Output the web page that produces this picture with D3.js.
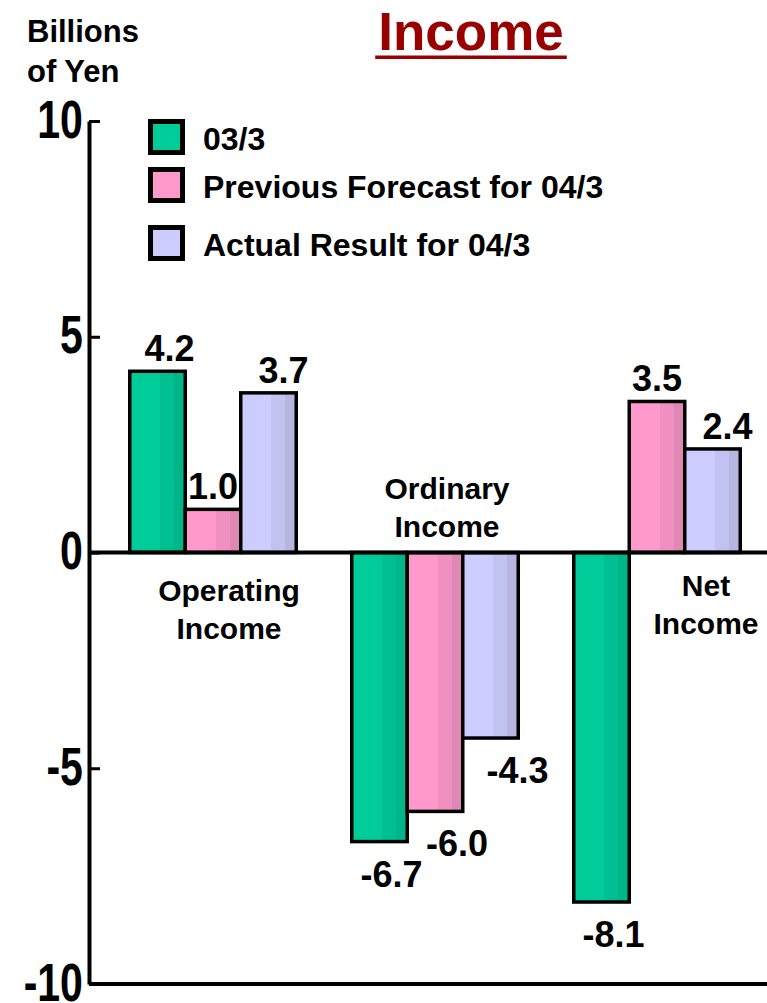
<!DOCTYPE html>
<html>
<head>
<meta charset="utf-8">
<script src="https://cdn.jsdelivr.net/npm/d3@7"></script>
<style>
  html, body { margin: 0; padding: 0; background: #fff; }
  svg { display: block; }
  text { font-family: "Liberation Sans", Arial, sans-serif; font-weight: bold; }
</style>
</head>
<body>
<svg id="chart" width="767" height="1003"></svg>
<script>
// Income by category, billions of yen
const categories = ["Operating Income", "Ordinary Income", "Net Income"];
const seriesNames = ["03/3", "Previous Forecast for 04/3", "Actual Result for 04/3"];
const fy03 = [4.2, -6.7, -8.1];
const prevForecast04 = [1.0, -6.0, 3.5];
const actual04 = [3.7, -4.3, 2.4];
const yTicks = [10, 5, 0, -5, -10];

const seriesValues = [fy03, prevForecast04, actual04];

// Fill colours per series: main face, middle stripe, right-hand shade
const palette = [
  ["#00CC99", "#00C091", "#00B588"],
  ["#FF99CC", "#F090C0", "#E088B4"],
  ["#CCCCFF", "#C2C2F0", "#B6B6E0"]
];

// Value-label horizontal nudges per series (positive / negative bars)
const labelDxPos = [12, 0, 15];
const labelDxNeg = [12, 22, 27];

// Category label placement: horizontal nudge and first-line baseline
const catLabelLayout = [
  { dx: 16, y: 601 },
  { dx: 12, y: 499 },
  { dx: 49, y: 596 }
];

const svg = d3.select("#chart");
const W = 767;
const axisX = 89;

const y = d3.scaleLinear().domain([-10, 10]).range([984, 121]);
const x0 = d3.scaleBand().domain(categories).range([102, 768])
  .paddingInner(0.25).paddingOuter(0.125);
const x1 = d3.scaleBand().domain(seriesNames).range([0, x0.bandwidth()]);

// Striped fills
const defs = svg.append("defs");
palette.forEach((cols, i) => {
  const g = defs.append("linearGradient").attr("id", "fill" + i)
    .attr("x1", "0%").attr("x2", "100%").attr("y1", "0%").attr("y2", "0%");
  [[0, cols[0]], [0.55, cols[0]], [0.55, cols[1]], [0.8, cols[1]], [0.8, cols[2]], [1, cols[2]]]
    .forEach(([o, c]) => g.append("stop").attr("offset", o).attr("stop-color", c));
});

// Title
const title = svg.append("text")
  .attr("x", 471).attr("y", 50)
  .attr("text-anchor", "middle")
  .attr("font-size", 53)
  .attr("fill", "#990000")
  .text("Income");
const tb = title.node().getBBox();
svg.append("rect")
  .attr("x", tb.x - 3).attr("y", 55.5)
  .attr("width", tb.width + 6).attr("height", 3.5)
  .attr("fill", "#990000");

// Unit label
svg.append("text").attr("x", 27).attr("y", 42).attr("font-size", 31).text("Billions");
svg.append("text").attr("x", 27).attr("y", 82).attr("font-size", 31).text("of Yen");

// Bars
const groups = svg.append("g").selectAll("g")
  .data(categories)
  .join("g")
  .attr("transform", d => `translate(${x0(d)},0)`);

groups.selectAll("rect")
  .data((c, ci) => seriesNames.map((s, si) => ({ s, si, v: seriesValues[si][ci] })))
  .join("rect")
  .attr("x", d => x1(d.s))
  .attr("y", d => y(Math.max(0, d.v)))
  .attr("width", x1.bandwidth())
  .attr("height", d => Math.abs(y(d.v) - y(0)))
  .attr("fill", d => `url(#fill${d.si})`)
  .attr("stroke", "#000")
  .attr("stroke-width", 3.5);

// Value labels
groups.selectAll("text.val")
  .data((c, ci) => seriesNames.map((s, si) => ({ s, si, v: seriesValues[si][ci] })))
  .join("text")
  .attr("class", "val")
  .attr("text-anchor", "middle")
  .attr("font-size", 36)
  .attr("x", d => x1(d.s) + x1.bandwidth() / 2 + (d.v >= 0 ? labelDxPos[d.si] : labelDxNeg[d.si]))
  .attr("y", d => d.v >= 0 ? y(d.v) - 10 : y(d.v) + 45)
  .text(d => d.v.toFixed(1));

// Category labels (two lines each)
groups.each(function (c, ci) {
  const lay = catLabelLayout[ci];
  const words = c.split(" ");
  const t = d3.select(this).append("text")
    .attr("text-anchor", "middle")
    .attr("font-size", 30);
  words.forEach((w, wi) => {
    t.append("tspan")
      .attr("x", x0.bandwidth() / 2 + lay.dx)
      .attr("y", lay.y + wi * 38)
      .text(w);
  });
});

// Zero line and bottom frame line
svg.append("line")
  .attr("x1", axisX).attr("x2", W)
  .attr("y1", y(0)).attr("y2", y(0))
  .attr("stroke", "#000").attr("stroke-width", 4);
svg.append("line")
  .attr("x1", axisX).attr("x2", W)
  .attr("y1", y(-10)).attr("y2", y(-10))
  .attr("stroke", "#000").attr("stroke-width", 4);

// Y axis: ticks point inward, labels on the left
const yAxis = d3.axisLeft(y)
  .tickValues(yTicks)
  .tickSizeInner(-11)
  .tickSizeOuter(0)
  .tickPadding(8)
  .tickFormat(d => String(d));

const ax = svg.append("g").attr("transform", `translate(${axisX},0)`).call(yAxis);
ax.select(".domain").attr("stroke", "#000").attr("stroke-width", 4);
ax.selectAll(".tick line").attr("stroke", "#000").attr("stroke-width", 3);
ax.selectAll(".tick text")
  .attr("font-family", "'Liberation Sans', Arial, sans-serif")
  .attr("font-weight", "bold")
  .attr("font-size", 54)
  .attr("fill", "#000")
  .attr("dy", "0.3em")
  .attr("transform", "scale(0.76,1)");

// Legend
const legendCenters = [137, 185, 243];
const legend = svg.append("g");
seriesNames.forEach((name, i) => {
  legend.append("rect")
    .attr("x", 150.5).attr("y", legendCenters[i] - 15.5)
    .attr("width", 32).attr("height", 31)
    .attr("fill", palette[i][0])
    .attr("stroke", "#000").attr("stroke-width", 5);
  legend.append("text")
    .attr("x", 203).attr("y", legendCenters[i] + 13)
    .attr("font-size", 32)
    .text(name);
});
</script>
</body>
</html>
